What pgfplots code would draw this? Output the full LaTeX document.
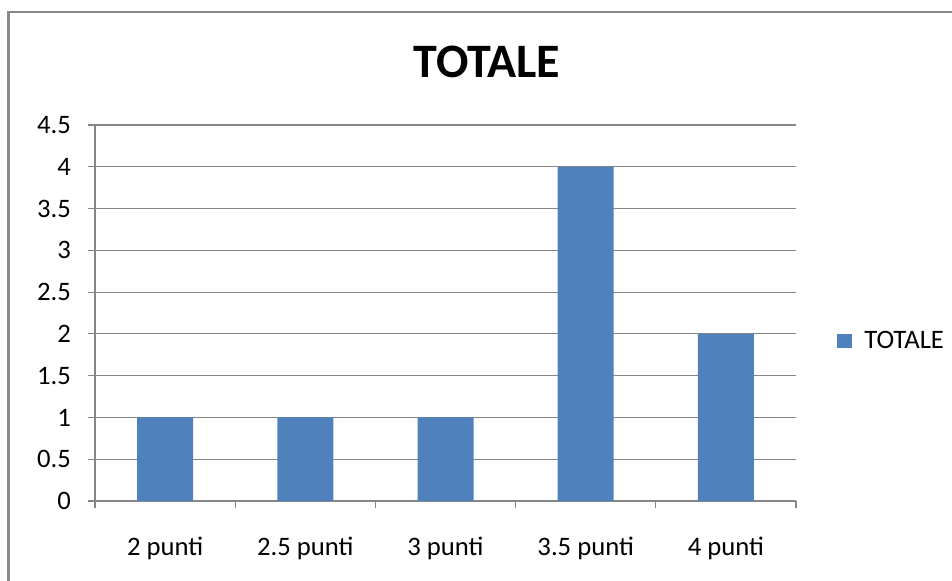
\documentclass[border=0pt]{standalone}
\usepackage{pgfplots}
\pgfplotsset{compat=1.18}
\usepackage{fontspec}
\setmainfont{Carlito}
\definecolor{barblue}{HTML}{4F81BD}
\definecolor{gridgray}{HTML}{868686}
\definecolor{framegray}{HTML}{898989}
\begin{document}
\begin{tikzpicture}
\useasboundingbox (0,0) rectangle (714pt,435.75pt);
\draw[framegray, line width=1.6pt] (6.4pt,0) -- (6.4pt,426.5pt) -- (714pt,426.5pt);
\node[font=\fontsize{36}{42}\selectfont\bfseries] at (365.25pt,389.25pt) {TOTALE};
\begin{axis}[
  at={(71.25pt,60pt)}, anchor=south west,
  scale only axis, width=525.75pt, height=282pt,
  ymin=0, ymax=4.5, ytick={0,0.5,...,4.5},
  xmin=-0.5, xmax=4.5,
  xtick={-0.5,0.5,1.5,2.5,3.5,4.5},
  xticklabels={},
  extra x ticks={0,1,2,3,4},
  extra x tick labels={2 punti,2.5 punti,3 punti,3.5 punti,4 punti},
  extra x tick style={tick style={draw=none}, grid=none},
  axis x line*=bottom, axis y line*=left,
  axis line style={gridgray, line width=0.8pt, -},
  ymajorgrids, grid style={gridgray, line width=0.8pt},
  tick align=outside,
  major tick length=5.6pt,
  tick style={gridgray, line width=0.8pt},
  /pgf/number format/assume math mode=true,
  ticklabel style={font=\fontsize{20}{23}\selectfont},
  yticklabel style={/pgf/number format/fixed, xshift=-9pt},
  xticklabel style={yshift=-18pt},
  ybar, bar width=42pt, bar shift=0pt,
  legend style={at={(1,0.5)}, anchor=west, xshift=27.5pt, yshift=-21pt, draw=none,
    font=\fontsize{20}{23}\selectfont},
  legend image code/.code={\fill[barblue] (0pt,-5.6pt) rectangle (11.25pt,5.6pt); \path (18.5pt,0pt);},
]
\addplot[fill=barblue, draw=none] coordinates {(0,1) (1,1) (2,1) (3,4) (4,2)};
\addlegendentry{TOTALE}
\end{axis}
\end{tikzpicture}
\end{document}
